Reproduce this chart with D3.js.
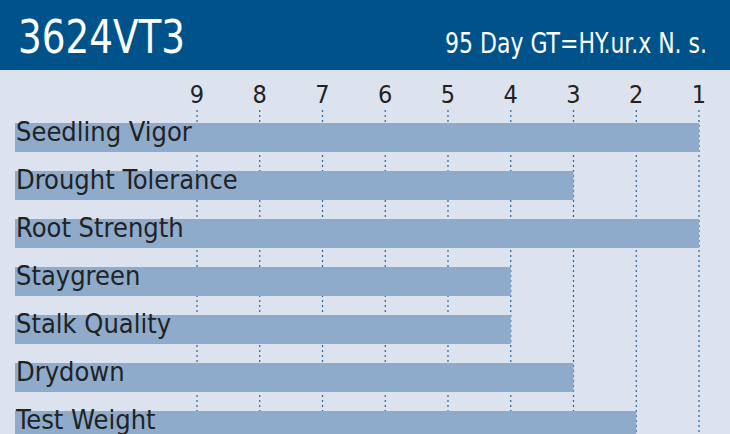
<!DOCTYPE html>
<html>
<head>
<meta charset="utf-8">
<script src="https://d3js.org/d3.v7.min.js"></script>
<style>
  body { margin: 0; background: #dce3ef; }
  svg { display: block; }
  .lbl { font-family: "DejaVu Sans Condensed", "DejaVu Sans", sans-serif; fill: #222; }
</style>
</head>
<body>
<div id="chart"></div>
<script>
var traits = ["Seedling Vigor", "Drought Tolerance", "Root Strength", "Staygreen", "Stalk Quality", "Drydown", "Test Weight"]
var scores = [1, 3, 1, 4, 4, 3, 2]
var ticks = [9, 8, 7, 6, 5, 4, 3, 2, 1]
var title = "3624VT3"
var subtitle = "95 Day GT=HY.ur.x N. s."

var width = 730, height = 434
var headH = 70
var left = 15

var svg = d3.select("#chart").append("svg")
  .attr("width", width)
  .attr("height", height)

svg.append("rect").attr("width", width).attr("height", height).attr("fill", "#dce3ef")

// header band
svg.append("rect").attr("width", width).attr("height", headH).attr("fill", "#00528a")
svg.append("text").attr("class", "lbl")
  .attr("x", 18).attr("y", 53)
  .attr("font-size", 46).style("fill", "#fff")
  .attr("textLength", 167).attr("lengthAdjust", "spacingAndGlyphs")
  .text(title)
svg.append("text").attr("class", "lbl")
  .attr("x", 445).attr("y", 53)
  .attr("font-size", 29).style("fill", "#fff")
  .attr("textLength", 262).attr("lengthAdjust", "spacingAndGlyphs")
  .text(subtitle)

var x = d3.scaleLinear().domain([9, 1]).range([197, 699])
var y = d3.scaleBand().domain(traits)
  .range([123, 123 + 48 * traits.length - 19])
  .paddingInner(19 / 48).paddingOuter(0)

// tick labels
svg.selectAll(".tick-lbl").data(ticks).enter().append("text")
  .attr("class", "lbl tick-lbl")
  .attr("x", d => x(d)).attr("y", 103)
  .attr("text-anchor", "middle")
  .attr("font-size", 25)
  .text(d => d)

// dotted grid lines
svg.selectAll(".grid").data(ticks).enter().append("line")
  .attr("x1", d => x(d)).attr("x2", d => x(d))
  .attr("y1", 110).attr("y2", height)
  .attr("stroke", "#2566a0")
  .attr("stroke-width", 1.2)
  .attr("stroke-dasharray", "2,3")

// bars
svg.selectAll(".bar").data(traits).enter().append("rect")
  .attr("x", left)
  .attr("y", d => y(d))
  .attr("width", (d, i) => x(scores[i]) - left)
  .attr("height", y.bandwidth())
  .attr("fill", "#8eabcb")

// trait names
svg.selectAll(".trait").data(traits).enter().append("text")
  .attr("class", "lbl trait")
  .attr("x", 16)
  .attr("y", d => y(d) + 18)
  .attr("font-size", 27)
  .text(d => d)
</script>
</body>
</html>
